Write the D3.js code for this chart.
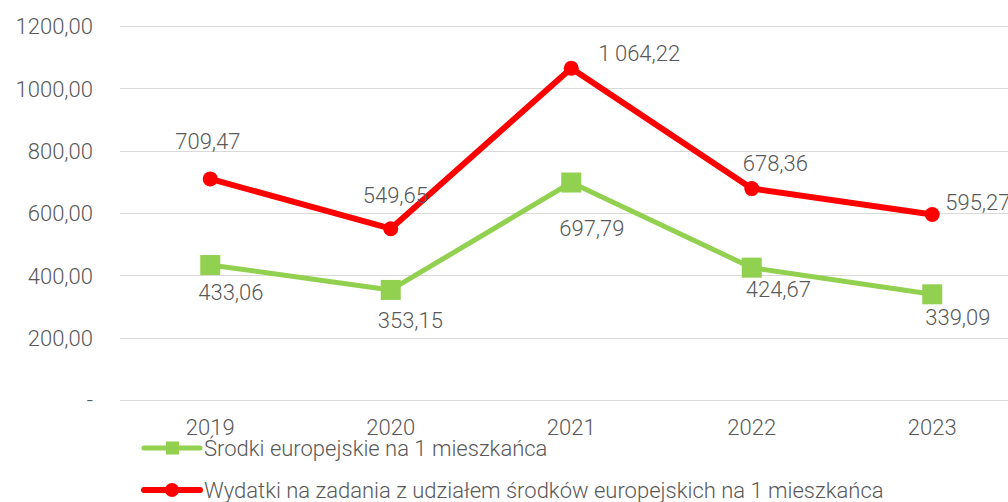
<!DOCTYPE html>
<html><head><meta charset="utf-8">
<script src="https://cdn.jsdelivr.net/npm/d3@7/dist/d3.min.js"></script>
<style>
html,body{margin:0;padding:0;background:#fff;}
svg{display:block;font-family:Roboto,"Open Sans",sans-serif;}
</style></head>
<body><svg id="c" width="1008" height="502"></svg>
<script>
const years = ["2019","2020","2021","2022","2023"];
const srodki = [433.06, 353.15, 697.79, 424.67, 339.09];
const wydatki = [709.47, 549.65, 1064.22, 678.36, 595.27];
const yTicks = [0, 200, 400, 600, 800, 1000, 1200];
const seriesNames = ["Środki europejskie na 1 mieszkańca",
  "Wydatki na zadania z udziałem środków europejskich na 1 mieszkańca"];

// layout (label offsets relative to point, px)
const redLabelOff = [[-35,-30],[-28,-26],[27,-7],[-9,-18],[13,-4]];
const greenLabelOff = [[-12,35],[-13,38],[-12,53],[-6,29],[-7,31]];

const svg = d3.select("#c");
const W = 1008, H = 502;
const x = d3.scaleBand().domain(years).range([120, 1022.5]);
const y = d3.scaleLinear().domain([0, 1200]).range([400, 26]);
const cx = d => x(d) + x.bandwidth()/2;

const pl = d3.formatLocale({decimal:",", thousands:"\u2009", grouping:[3], currency:["",""]});
const fAxis = v => v === 0 ? "-" : d3.format(".2f")(v).replace(".", ",");
const fLab = pl.format(",.2f");

const textCol = "#595959";
// gridlines
svg.append("g").selectAll("line").data(yTicks).join("line")
  .attr("x1", 120).attr("x2", W).attr("y1", d => Math.round(y(d))+0.5).attr("y2", d => Math.round(y(d))+0.5)
  .attr("stroke", "#d9d9d9").attr("stroke-width", 1);

// y axis labels
const yAx = d3.axisLeft(y).tickValues(yTicks).tickFormat(fAxis).tickSize(0).tickPadding(0);
const gy = svg.append("g").attr("transform", "translate(93,0)").call(yAx);
gy.select(".domain").remove();
gy.selectAll("text").attr("font-size", 22).attr("fill", textCol).attr("font-family", "Roboto").attr("font-weight", 300).attr("dy", "0.35em");

// x axis labels
const xAx = d3.axisBottom(x).tickSize(0).tickPadding(0);
const gx = svg.append("g").attr("transform", "translate(0,419)").call(xAx);
gx.select(".domain").remove();
gx.selectAll("text").attr("font-size", 22).attr("fill", textCol).attr("font-family", "Roboto").attr("font-weight", 300).attr("dy", "0.71em");

const line = d3.line().x((d,i) => cx(years[i])).y(d => y(d));
// green series
svg.append("path").datum(srodki).attr("d", line).attr("fill", "none")
  .attr("stroke", "#92D050").attr("stroke-width", 5).attr("stroke-linejoin", "round");
svg.append("g").selectAll("rect").data(srodki).join("rect")
  .attr("x", (d,i) => cx(years[i]) - 10).attr("y", d => y(d) - 10)
  .attr("width", 20).attr("height", 20).attr("fill", "#92D050");
// red series
svg.append("path").datum(wydatki).attr("d", line).attr("fill", "none")
  .attr("stroke", "#FF0000").attr("stroke-width", 6).attr("stroke-linejoin", "round");
svg.append("g").selectAll("circle").data(wydatki).join("circle")
  .attr("cx", (d,i) => cx(years[i])).attr("cy", d => y(d)).attr("r", 7.5).attr("fill", "#FF0000");

// data labels
function labels(data, off) {
  svg.append("g").selectAll("text").data(data).join("text")
    .attr("x", (d,i) => cx(years[i]) + off[i][0]).attr("y", (d,i) => y(d) + off[i][1])
    .attr("font-size", 22).attr("font-weight", 300).attr("fill", textCol)
    .text(d => fLab(d));
}
labels(wydatki, redLabelOff);
labels(srodki, greenLabelOff);

// legend
const leg = svg.append("g");
const legRows = [{name: seriesNames[0], col: "#92D050", shape: "rect", w: 5, y: 448},
                 {name: seriesNames[1], col: "#FF0000", shape: "circle", w: 6, y: 490}];
legRows.forEach(r => {
  leg.append("line").attr("x1", 144).attr("x2", 200).attr("y1", r.y).attr("y2", r.y)
    .attr("stroke", r.col).attr("stroke-width", r.w).attr("stroke-linecap", "round");
  if (r.shape === "rect") leg.append("rect").attr("x", 166).attr("y", r.y - 6.5).attr("width", 13).attr("height", 13).attr("fill", r.col);
  else leg.append("circle").attr("cx", 172).attr("cy", r.y).attr("r", 7).attr("fill", r.col);
  leg.append("text").attr("x", 204).attr("y", r.y).attr("dy", "0.35em")
    .attr("font-size", 22).attr("font-weight", 300).attr("fill", textCol).text(r.name);
});
</script></body></html>
